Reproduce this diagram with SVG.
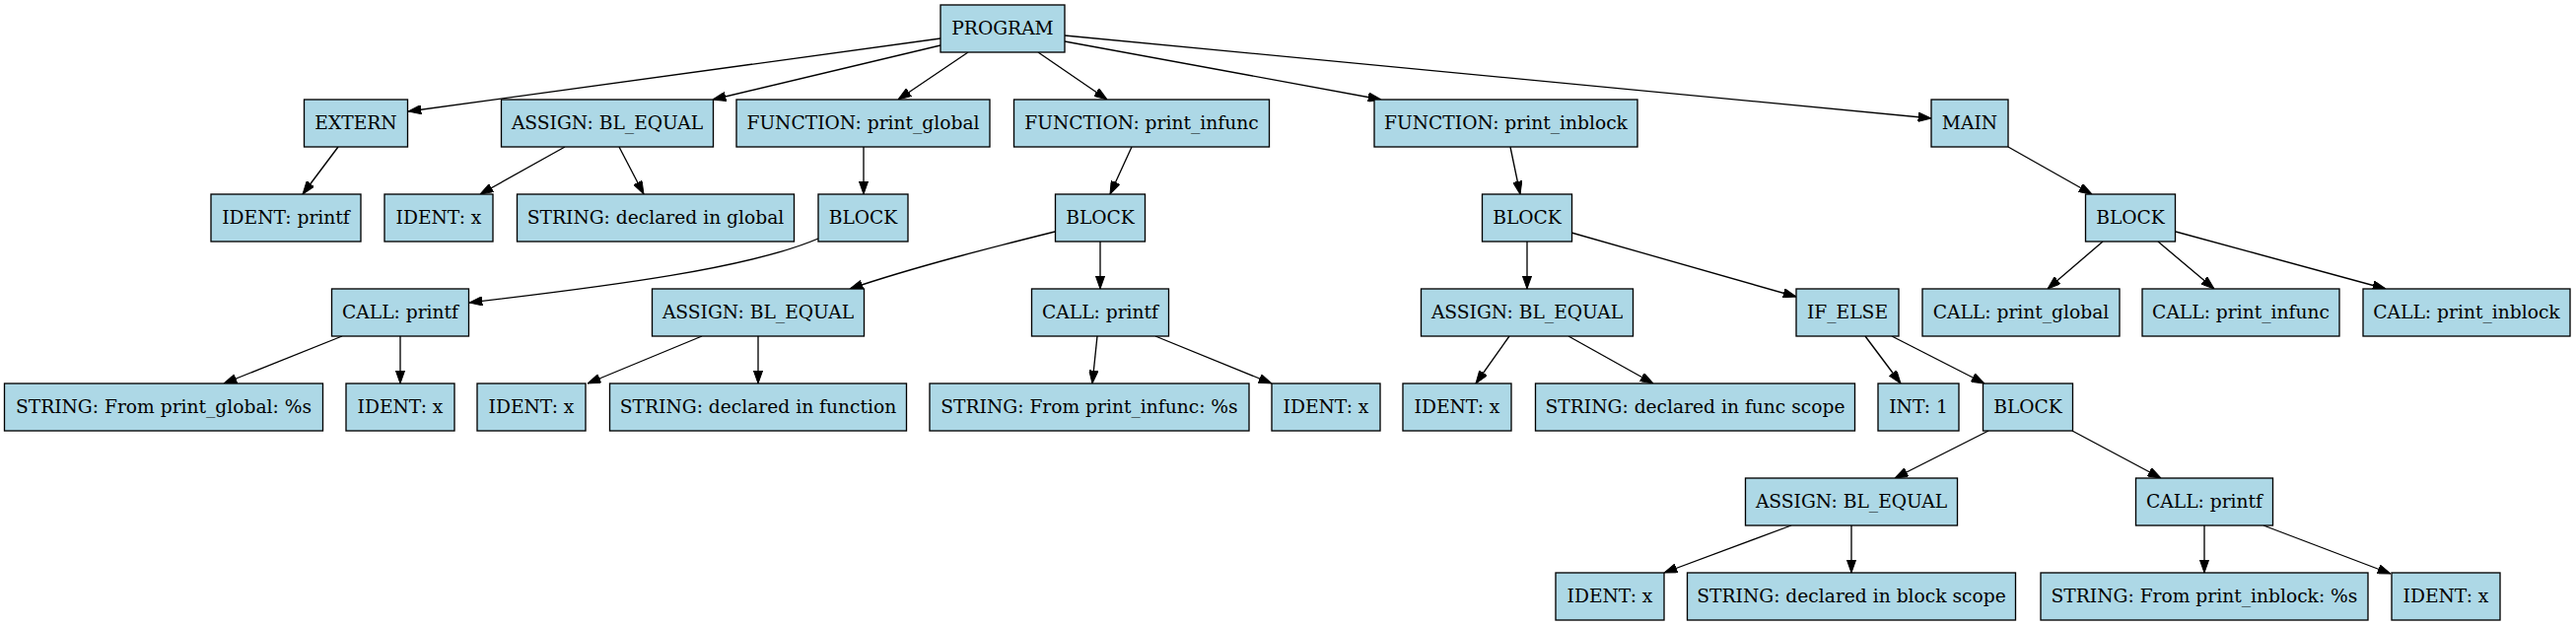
<svg xmlns="http://www.w3.org/2000/svg" width="2613" height="635" viewBox="0 0 2613 635">
<style>
.n rect{fill:#add8e6;stroke:#000;stroke-width:1.33}
.n text{font-family:"DejaVu Serif","Liberation Serif",serif;font-size:18.67px;text-anchor:middle;fill:#000}
.e path{fill:none;stroke:#000;stroke-width:1.33;marker-end:url(#ah)}
</style>
<defs>
<marker id="ah" markerUnits="userSpaceOnUse" viewBox="0 0 13.3 9.4" refX="13.3" refY="4.7" markerWidth="13.3" markerHeight="9.4" orient="auto">
<path d="M0,0 L13.3,4.7 L0,9.4 z" fill="#000" stroke="#000" stroke-width="1"/>
</marker>
</defs>
<rect width="2613" height="635" fill="#fff"/>
<g id="connectors" class="e">
<path d="M954,39 L414,113"/>
<path d="M954,46 L723,101"/>
<path d="M982,53 L911,101"/>
<path d="M1053,53 L1123,101"/>
<path d="M1080,42 L1401,101"/>
<path d="M1080,36 L1959,120"/>
<path d="M343,149 L307,197"/>
<path d="M573,149 L487,197"/>
<path d="M628,149 L653,197"/>
<path d="M876,149 L876,197"/>
<path d="M830,242 C760,272 620,290 476,307"/>
<path d="M1148,149 L1126,197"/>
<path d="M1070,235 C1010,250 930,270 862,293"/>
<path d="M1116,245 L1116,293"/>
<path d="M347,341 L227,389"/>
<path d="M406,341 L406,389"/>
<path d="M712,341 L596,389"/>
<path d="M769,341 L769,389"/>
<path d="M1113,341 L1108,389"/>
<path d="M1172,341 L1290,389"/>
<path d="M1532,149 L1542,197"/>
<path d="M1549,245 L1549,293"/>
<path d="M1594,236 L1822,301"/>
<path d="M1531,341 L1497,389"/>
<path d="M1591,341 L1677,389"/>
<path d="M1892,341 L1928,389"/>
<path d="M1919,341 L2013,389"/>
<path d="M2037,149 L2122,197"/>
<path d="M2133,245 L2077,293"/>
<path d="M2189,245 L2246,293"/>
<path d="M2207,235 L2420,293"/>
<path d="M2017,437 L1922,485"/>
<path d="M2102,437 L2192,485"/>
<path d="M1817,533 L1688,581"/>
<path d="M1878,533 L1878,581"/>
<path d="M2236,533 L2236,581"/>
<path d="M2296,533 L2425,582"/>
</g>
<g id="n_program" class="n"><rect x="954" y="5" width="126" height="48"/><text x="1017" y="34.6">PROGRAM</text></g>
<g id="n_extern" class="n"><rect x="308.5" y="101" width="105" height="48"/><text x="361" y="130.6">EXTERN</text></g>
<g id="n_assign_global" class="n"><rect x="508.5" y="101" width="215" height="48"/><text x="616" y="130.6">ASSIGN: BL_EQUAL</text></g>
<g id="n_func_global" class="n"><rect x="747" y="101" width="257" height="48"/><text x="875.5" y="130.6">FUNCTION: print_global</text></g>
<g id="n_func_infunc" class="n"><rect x="1028.5" y="101" width="259" height="48"/><text x="1158" y="130.6">FUNCTION: print_infunc</text></g>
<g id="n_func_inblock" class="n"><rect x="1394" y="101" width="267" height="48"/><text x="1527.5" y="130.6">FUNCTION: print_inblock</text></g>
<g id="n_main" class="n"><rect x="1959" y="101" width="78" height="48"/><text x="1998" y="130.6">MAIN</text></g>
<g id="n_ident_printf" class="n"><rect x="214" y="197" width="152" height="48"/><text x="290" y="226.6">IDENT: printf</text></g>
<g id="n_ident_x1" class="n"><rect x="390" y="197" width="110" height="48"/><text x="445" y="226.6">IDENT: x</text></g>
<g id="n_str_global" class="n"><rect x="524.5" y="197" width="281" height="48"/><text x="665" y="226.6">STRING: declared in global</text></g>
<g id="n_block_global" class="n"><rect x="830" y="197" width="91" height="48"/><text x="875.5" y="226.6">BLOCK</text></g>
<g id="n_block_infunc" class="n"><rect x="1070.5" y="197" width="91" height="48"/><text x="1116" y="226.6">BLOCK</text></g>
<g id="n_block_inblock" class="n"><rect x="1503.5" y="197" width="91" height="48"/><text x="1549" y="226.6">BLOCK</text></g>
<g id="n_block_main" class="n"><rect x="2115.5" y="197" width="91" height="48"/><text x="2161" y="226.6">BLOCK</text></g>
<g id="n_call_printf1" class="n"><rect x="336.5" y="293" width="139" height="48"/><text x="406" y="322.6">CALL: printf</text></g>
<g id="n_assign_infunc" class="n"><rect x="661.5" y="293" width="215" height="48"/><text x="769" y="322.6">ASSIGN: BL_EQUAL</text></g>
<g id="n_call_printf2" class="n"><rect x="1046.5" y="293" width="139" height="48"/><text x="1116" y="322.6">CALL: printf</text></g>
<g id="n_assign_inblock" class="n"><rect x="1441.5" y="293" width="215" height="48"/><text x="1549" y="322.6">ASSIGN: BL_EQUAL</text></g>
<g id="n_if_else" class="n"><rect x="1822" y="293" width="104" height="48"/><text x="1874" y="322.6">IF_ELSE</text></g>
<g id="n_call_pg" class="n"><rect x="1950" y="293" width="200" height="48"/><text x="2050" y="322.6">CALL: print_global</text></g>
<g id="n_call_pf" class="n"><rect x="2173" y="293" width="200" height="48"/><text x="2273" y="322.6">CALL: print_infunc</text></g>
<g id="n_call_pb" class="n"><rect x="2397" y="293" width="210" height="48"/><text x="2502" y="322.6">CALL: print_inblock</text></g>
<g id="n_str_from_global" class="n"><rect x="4.5" y="389" width="323" height="48"/><text x="166" y="418.6">STRING: From print_global: %s</text></g>
<g id="n_ident_x2" class="n"><rect x="351" y="389" width="110" height="48"/><text x="406" y="418.6">IDENT: x</text></g>
<g id="n_ident_x3" class="n"><rect x="484" y="389" width="110" height="48"/><text x="539" y="418.6">IDENT: x</text></g>
<g id="n_str_func" class="n"><rect x="618.5" y="389" width="301" height="48"/><text x="769" y="418.6">STRING: declared in function</text></g>
<g id="n_str_from_infunc" class="n"><rect x="943" y="389" width="324" height="48"/><text x="1105" y="418.6">STRING: From print_infunc: %s</text></g>
<g id="n_ident_x4" class="n"><rect x="1290" y="389" width="110" height="48"/><text x="1345" y="418.6">IDENT: x</text></g>
<g id="n_ident_x5" class="n"><rect x="1423" y="389" width="110" height="48"/><text x="1478" y="418.6">IDENT: x</text></g>
<g id="n_str_funcscope" class="n"><rect x="1557.5" y="389" width="324" height="48"/><text x="1719.5" y="418.6">STRING: declared in func scope</text></g>
<g id="n_int1" class="n"><rect x="1905" y="389" width="82" height="48"/><text x="1946" y="418.6">INT: 1</text></g>
<g id="n_block_if" class="n"><rect x="2011.5" y="389" width="91" height="48"/><text x="2057" y="418.6">BLOCK</text></g>
<g id="n_assign_block" class="n"><rect x="1770.5" y="485" width="215" height="48"/><text x="1878" y="514.6">ASSIGN: BL_EQUAL</text></g>
<g id="n_call_printf3" class="n"><rect x="2166.5" y="485" width="139" height="48"/><text x="2236" y="514.6">CALL: printf</text></g>
<g id="n_ident_x6" class="n"><rect x="1578" y="581" width="110" height="48"/><text x="1633" y="610.6">IDENT: x</text></g>
<g id="n_str_blockscope" class="n"><rect x="1711.5" y="581" width="333" height="48"/><text x="1878" y="610.6">STRING: declared in block scope</text></g>
<g id="n_str_from_inblock" class="n"><rect x="2070" y="581" width="332" height="48"/><text x="2236" y="610.6">STRING: From print_inblock: %s</text></g>
<g id="n_ident_x7" class="n"><rect x="2426" y="581" width="110" height="48"/><text x="2481" y="610.6">IDENT: x</text></g>
</svg>
